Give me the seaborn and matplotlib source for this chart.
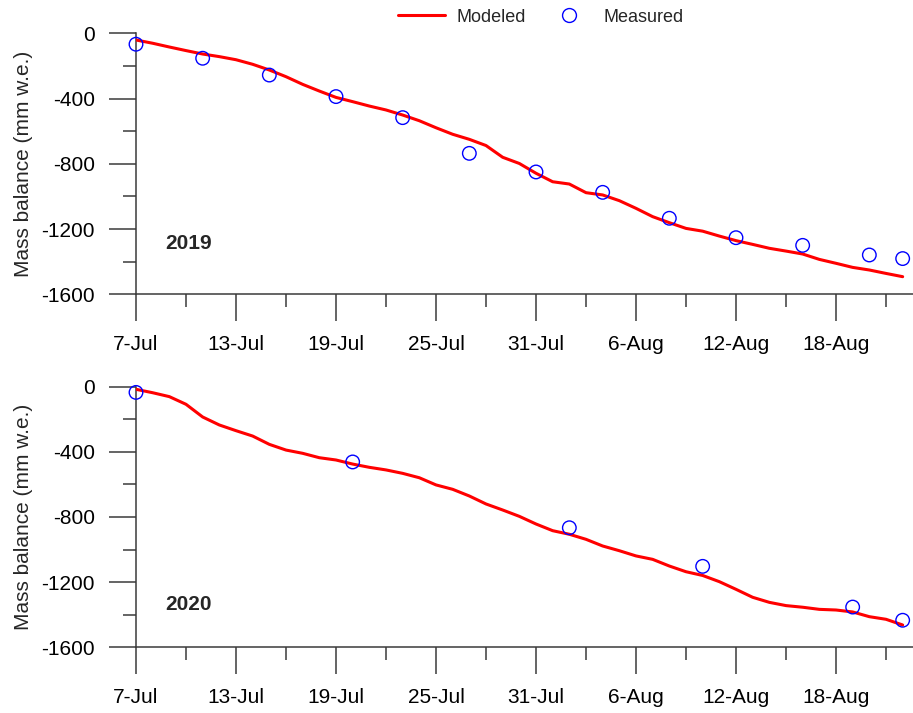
import matplotlib
matplotlib.use("Agg")
import matplotlib.pyplot as plt
from matplotlib.lines import Line2D
import pandas as pd
import seaborn as sns

sns.set_style("ticks")
plt.rcParams["font.family"] = ["Liberation Sans", "DejaVu Sans"]
plt.rcParams["axes.unicode_minus"] = False

# Days counted from 7 July
days = list(range(47))

modeled_2019 = [-41, -61, -84, -106, -127, -143, -162, -190, -225, -266,
                -313, -354, -393, -419, -446, -470, -501, -536, -579, -619,
                -650, -688, -760, -798, -858, -910, -924, -977, -991, -1026,
                -1073, -1124, -1161, -1196, -1213, -1243, -1271, -1294, -1318, -1335,
                -1353, -1386, -1410, -1435, -1451, -1472, -1492]

modeled_2020 = [-16, -37, -61, -108, -186, -235, -270, -303, -354, -389,
                -409, -436, -450, -475, -495, -511, -532, -559, -603, -630,
                -671, -720, -757, -796, -843, -884, -906, -937, -978, -1007,
                -1039, -1060, -1101, -1136, -1159, -1197, -1244, -1293, -1324, -1344,
                -1354, -1367, -1371, -1383, -1412, -1428, -1463]

measured_days_2019 = [0, 4, 8, 12, 16, 20, 24, 28, 32, 36, 40, 44, 46]
measured_2019 = [-67, -153, -256, -388, -517, -736, -850, -975, -1134, -1253,
                 -1300, -1359, -1381]

measured_days_2020 = [0, 13, 26, 34, 43, 46]
measured_2020 = [-35, -462, -866, -1103, -1353, -1434]

tick_days = [0, 6, 12, 18, 24, 30, 36, 42]
tick_labels = ["7-Jul", "13-Jul", "19-Jul", "25-Jul", "31-Jul", "6-Aug", "12-Aug", "18-Aug"]
minor_days = [3, 9, 15, 21, 27, 33, 39, 45]
y_ticks = [0, -400, -800, -1200, -1600]
y_minor = [-200, -600, -1000, -1400]

panels = [
    ("2019", modeled_2019, measured_days_2019, measured_2019),
    ("2020", modeled_2020, measured_days_2020, measured_2020),
]

W, H = 913, 713
fig = plt.figure(figsize=(W / 100, H / 100), dpi=100)
axes_px = [(136, 33.3, 294.3), (136, 386.7, 647.3)]
year_pos = [0.195, 0.165]

spine_col = "#3a3a3a"
for (year, modeled, mdays, meas), (left, top, bottom), ypos in zip(panels, axes_px, year_pos):
    ax = fig.add_axes([left / W, 1 - bottom / H, (W - left) / W, (bottom - top) / H])

    sns.lineplot(data=pd.DataFrame({"day": days, "mb": modeled}), x="day", y="mb",
                 ax=ax, color="#ff0000", linewidth=2.2, zorder=3)
    sns.scatterplot(data=pd.DataFrame({"day": mdays, "mb": meas}), x="day", y="mb",
                    ax=ax, marker="o", s=95, facecolor="none", edgecolor="#0000ff",
                    linewidth=1.0, clip_on=False, zorder=4)

    ax.set_xlim(0, (W - left) / (100 / 6))
    ax.set_ylim(-1600, 0)
    ax.set_xticks(tick_days)
    ax.set_xticklabels(tick_labels)
    ax.set_xticks(minor_days, minor=True)
    ax.set_yticks(y_ticks)
    ax.set_yticklabels([str(v) for v in y_ticks])
    ax.set_yticks(y_minor, minor=True)

    ax.set_xlabel("")
    ax.set_ylabel("")
    for s in ("top", "right"):
        ax.spines[s].set_visible(False)
    for s in ("left", "bottom"):
        ax.spines[s].set_color(spine_col)
        ax.spines[s].set_linewidth(1.1)

    ax.tick_params(axis="both", which="major", direction="out", length=19.5,
                   width=1.1, color=spine_col, labelsize=15, labelcolor="black")
    ax.tick_params(axis="both", which="minor", direction="out", length=9.7,
                   width=1.1, color=spine_col)
    ax.tick_params(axis="y", which="major", pad=10)
    ax.tick_params(axis="x", which="major", pad=10)

    ax.text(-0.1454, 0.5, "Mass balance (mm w.e.)", transform=ax.transAxes,
            rotation=90, ha="center", va="center", fontsize=15)
    ax.text(0.0373, ypos, year, transform=ax.transAxes, ha="left", va="center",
            fontsize=15, fontweight="bold")

handles = [
    Line2D([], [], color="#ff0000", linewidth=2.2),
    Line2D([], [], marker="o", linestyle="none", markerfacecolor="none",
           markeredgecolor="#0000ff", markersize=10, markeredgewidth=1.0),
]
fig.legend(handles, ["Modeled", "Measured"], ncol=2, frameon=False, loc="center",
           bbox_to_anchor=(541 / W, 1 - 17.3 / H), fontsize=13, handlelength=2.6,
           handletextpad=0.65, columnspacing=1.07)

fig.savefig("out.png", dpi=100)
